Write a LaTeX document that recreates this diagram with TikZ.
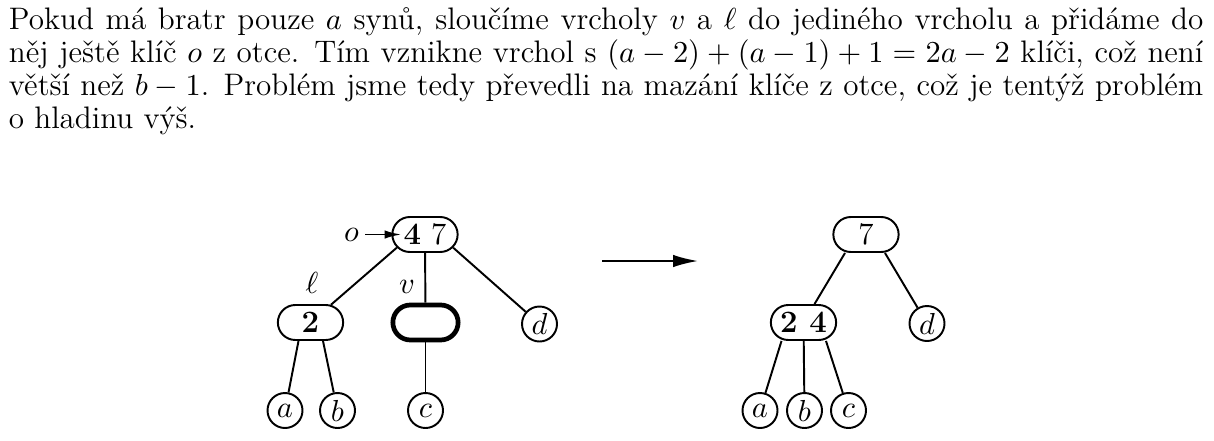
\documentclass[tikz,border=0pt,11pt]{standalone}
\usepackage{tikz}
\usetikzlibrary{arrows.meta,positioning,calc,shapes.misc}

\begin{document}
\begin{tikzpicture}[
  x=0.36pt, y=-0.36pt, line width=0.7pt,
  font=\fontsize{11.2}{13}\selectfont,
  bnode/.style={draw, rounded rectangle, minimum width=25.5pt,
                minimum height=12.6pt, inner sep=1pt},
  thicknode/.style={bnode, line width=1.7pt},
  leaf/.style={draw, circle, minimum size=12.6pt, inner sep=0pt},
  lbl/.style={inner sep=2pt},
  txt/.style={anchor=base west, inner sep=0pt},
  ar/.style={-{Latex[length=6pt, width=3pt]}},
  bigar/.style={-{Latex[length=9pt, width=4.5pt]}}]
\useasboundingbox (0,0) rectangle (1214,440);

% --- paragraph above the picture
\node[txt] (line1) at (8,29) {\makebox[430pt][s]{Pokud má bratr pouze $a$ synů, sloučíme vrcholy $v$ a $\ell$ do jediného vrcholu a přidáme do}};
\node[txt] (line2) at (8,62) {\makebox[430pt][s]{něj ještě klíč $o$ z otce. Tím vznikne vrchol s $(a-2)+(a-1)+1=2a-2$ klíči, což není}};
\node[txt] (line3) at (8,95) {\makebox[430pt][s]{větší než $b-1$. Problém jsme tedy převedli na mazání klíče z otce, což je tentýž problém}};
\node[txt] (line4) at (8,128) {o hladinu výš.};

% --- left tree: before merging
\node[bnode] (l47) at (425,234.5) {\textbf{4} 7};
\node[bnode] (l2) at (310.5,322.5) {\textbf{2}};
\node[thicknode] (v) at (425.5,322.5) {};
\node[leaf] (d) at (539.5,324) {$d$};
\node[leaf] (a) at (285,410.5) {$a$};
\node[leaf] (b) at (337.5,410.5) {$b$};
\node[leaf] (c) at (425.5,410.5) {$c$};
\node[lbl, left=9.4pt of l47] (o) {$o$};
\coordinate (oend) at ($(l47.west)+(10,0)$);
\node[lbl, anchor=base] (ell) at (312,293) {$\ell$};
\node[lbl, anchor=base] (vl) at (407,293) {$v$};

\draw[ar] (o.east) -- (o.east -| oend);
\draw (l47.205) -- (l2); \draw (l47) -- (v); \draw (l47.335) -- (d);
\draw ($(l2.south)+(-12,0)$) -- (a); \draw ($(l2.south)+(12.5,0)$) -- (b);
\draw (v) -- (c);

% --- arrow between the trees
\coordinate (arrs) at (602,261);
\coordinate (arre) at (698,261);
\draw[bigar] (arrs) -- (arre);

% --- right tree: after merging
\node[bnode] (r7) at (866,234.5) {7};
\node[bnode] (r24) at (803.5,322.5) {\textbf{2 4}};
\node[leaf] (rd) at (927,323.5) {$d$};
\node[leaf] (ra) at (760,410.5) {$a$};
\node[leaf] (rb) at (804.5,410.5) {$b$};
\node[leaf] (rc) at (848.5,410.5) {$c$};

\draw ($(r7.south)+(-21,0)$) -- (r24); \draw ($(r7.south)+(19,0)$) -- (rd);
\draw ($(r24.south)+(-22,0)$) -- (ra); \draw (r24) -- (rb);
\draw ($(r24.south)+(22.5,0)$) -- (rc);
\end{tikzpicture}
\end{document}
